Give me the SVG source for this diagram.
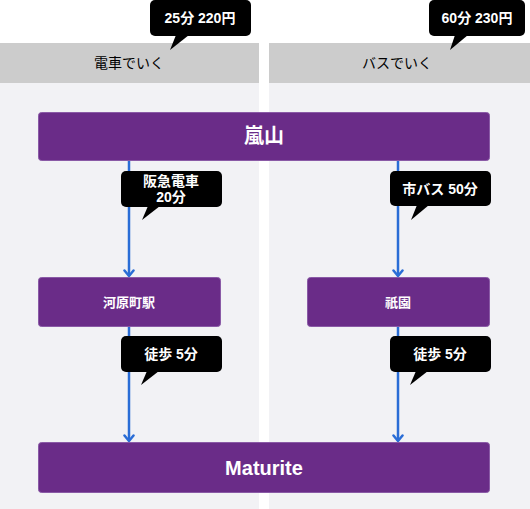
<svg xmlns="http://www.w3.org/2000/svg" width="530" height="509" viewBox="0 0 530 509">
<defs>
<style>
text{font-family:"Liberation Sans","Noto Sans CJK JP",sans-serif;text-anchor:middle}
.lane{fill:#f2f2f5}
.hdr{fill:#cccccc}
.hdrt{font-size:14px;fill:#000}
.node rect{fill:#6a2c88;stroke:#8a5aa6;stroke-width:1}
.big{font-size:20px;font-weight:bold;fill:#fff}
.small{font-size:13px;font-weight:bold;fill:#fff}
.tip rect,.tip path{fill:#000}
.tip text{font-size:14px;font-weight:bold;fill:#fff}
.conn{stroke:#2a6dd6;stroke-width:2.5;fill:none;marker-end:url(#ah)}
</style>
<marker id="ah" viewBox="0 0 10 12" refX="8.5" refY="6" markerWidth="10" markerHeight="12" markerUnits="userSpaceOnUse" orient="auto">
<path d="M3,1.5 L8.5,6 L3,10.5" fill="none" stroke="#2a6dd6" stroke-width="2.5" stroke-linecap="round" stroke-linejoin="round"/>
</marker>
</defs>
<rect width="530" height="509" fill="#ffffff"/>
<g id="lane-train">
<rect class="lane" x="0" y="43" width="259" height="466"/>
<rect class="hdr" x="0" y="43" width="259" height="40"/>
<text class="hdrt" x="129" y="68">電車でいく</text>
</g>
<g id="lane-bus">
<rect class="lane" x="269" y="43" width="261" height="466"/>
<rect class="hdr" x="269" y="43" width="261" height="40"/>
<text class="hdrt" x="397" y="68">バスでいく</text>
</g>
<g id="connectors">
<line class="conn" x1="129" y1="161" x2="129" y2="276"/>
<line class="conn" x1="398" y1="161" x2="398" y2="276"/>
<line class="conn" x1="129" y1="327" x2="129" y2="441"/>
<line class="conn" x1="398" y1="327" x2="398" y2="441"/>
</g>
<g id="node-arashiyama" class="node">
<rect x="38.5" y="112.5" width="451" height="48" rx="3"/>
<text class="big" x="264" y="143">嵐山</text>
</g>
<g id="node-kawaramachi" class="node">
<rect x="38.5" y="277.5" width="182" height="49" rx="3"/>
<text class="small" x="129" y="307">河原町駅</text>
</g>
<g id="node-gion" class="node">
<rect x="307.5" y="277.5" width="182" height="49" rx="3"/>
<text class="small" x="398" y="307">祇園</text>
</g>
<g id="node-maturite" class="node">
<rect x="38.5" y="442.5" width="451" height="50" rx="3"/>
<text class="big" x="264" y="475">Maturite</text>
</g>
<g id="tip-train" class="tip">
<rect x="150" y="0" width="101" height="36" rx="5"/>
<path d="M176,35 L189,35 L170,50 Z"/>
<text x="200" y="23">25分 220円</text>
</g>
<g id="tip-bus" class="tip">
<rect x="429" y="0" width="96" height="36" rx="5"/>
<path d="M455,35 L468,35 L450,50 Z"/>
<text x="477" y="23">60分 230円</text>
</g>
<g id="tip-hankyu" class="tip">
<rect x="121" y="171" width="101" height="36" rx="5"/>
<path d="M148,206 L160,206 L142,220 Z"/>
<text x="171" y="186">阪急電車</text>
<text x="171" y="202">20分</text>
</g>
<g id="tip-citybus" class="tip">
<rect x="390" y="171" width="101" height="35" rx="5"/>
<path d="M417,205 L429,205 L411,220 Z"/>
<text x="440" y="194">市バス 50分</text>
</g>
<g id="tip-walk1" class="tip">
<rect x="121" y="336" width="101" height="36" rx="5"/>
<path d="M147,371 L159,371 L141,385 Z"/>
<text x="171" y="359">徒歩 5分</text>
</g>
<g id="tip-walk2" class="tip">
<rect x="390" y="336" width="101" height="36" rx="5"/>
<path d="M416,371 L428,371 L410,385 Z"/>
<text x="440" y="359">徒歩 5分</text>
</g>
</svg>
